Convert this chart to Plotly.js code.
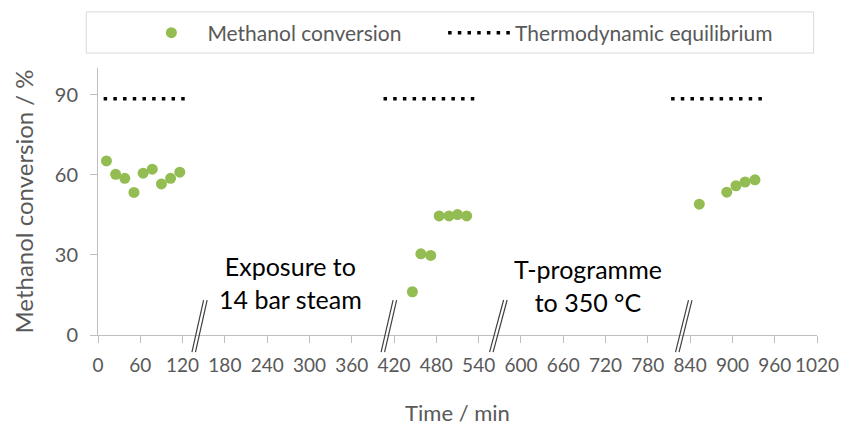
<!DOCTYPE html>
<html>
<head>
<meta charset="utf-8">
<script src="https://cdn.plot.ly/plotly-3.0.1.min.js"></script>
<style>html,body{margin:0;padding:0;background:#fff;}#chart{width:843px;height:426px;}</style>
</head>
<body>
<div id="chart"></div>
<script>
// ---- data ----
const timeMin = [12, 25, 38, 51, 64, 77, 90, 103, 116,
                 446, 458, 472, 484, 498, 510, 523,
                 853, 892, 905, 918, 932];
const conversion = [65.2, 60.2, 58.7, 53.4, 60.6, 62.1, 56.6, 58.7, 61.0,
                    16.2, 30.4, 29.8, 44.6, 44.6, 45.1, 44.6,
                    49.0, 53.5, 55.9, 57.3, 58.1];
const eqTime = [8, 123, null, 405, 534, null, 813, 942];
const eqValue = [88.5, 88.5, null, 88.5, 88.5, null, 88.5, 88.5];
const xTicks = [0, 60, 120, 180, 240, 300, 360, 420, 480, 540, 600, 660, 720, 780, 840, 900, 960, 1020];
const yTicks = [0, 30, 60, 90];
const seriesNames = ['Methanol conversion', 'Thermodynamic equilibrium'];
const notes = ['Exposure to<br>14 bar steam', 'T-programme<br>to 350 °C'];

// ---- styling / layout ----
const FONT = 'Lato, "Open Sans", sans-serif';
const GREY = '#595959';
const AX = '#bfbfbf';

const traces = [
  {
    x: timeMin, y: conversion, type: 'scatter', mode: 'markers', name: seriesNames[0],
    legend: 'legend',
    marker: {color: '#93bd52', size: 11}
  },
  {
    x: eqTime, y: eqValue, type: 'scatter', mode: 'lines', name: seriesNames[1],
    legend: 'legend2',
    connectgaps: false,
    line: {color: '#000000', width: 3.5, dash: '3.5px,6.2px'}
  }
];

// break marks "//" : [top x, bottom x] in minutes
const breaks = [[149.8, 133.3], [418.6, 401.6], [575.4, 555.5], [837.7, 819.3]];
const bTop = 0.131, bBot = -0.064, bOff = 5.0;
const shapes = breaks.map(b => ({
  type: 'path', xref: 'x', yref: 'paper', layer: 'above',
  path: `M${b[0]},${bTop} L${b[1]},${bBot} M${b[0] + bOff},${bTop} L${b[1] + bOff},${bBot}`,
  line: {color: '#404040', width: 1.2}
}));
shapes.push({
  type: 'rect', xref: 'paper', yref: 'paper',
  x0: -0.0163, x1: 0.9953, y0: 1.0562, y1: 1.21,
  line: {color: '#d9d9d9', width: 1}, fillcolor: 'rgba(0,0,0,0)'
});

const axisCommon = {
  showgrid: false, zeroline: false, showline: true, linecolor: AX, linewidth: 1,
  ticks: 'outside', ticklen: 7, tickcolor: AX, tickwidth: 1, automargin: false
};

const legendCommon = {
  orientation: 'h', xanchor: 'left', y: 1.131, yanchor: 'middle',
  bgcolor: 'rgba(0,0,0,0)', borderwidth: 0,
  font: {family: FONT, size: 21, color: GREY},
  itemwidth: 62
};

const layout = {
  width: 843, height: 426,
  margin: {l: 98, r: 26, t: 68, b: 91, pad: 0},
  paper_bgcolor: '#ffffff', plot_bgcolor: '#ffffff',
  font: {family: FONT, color: GREY},
  showlegend: true,
  legend: Object.assign({}, legendCommon, {x: 0.052}),
  legend2: Object.assign({}, legendCommon, {x: 0.480}),
  xaxis: Object.assign({}, axisCommon, {
    range: [0, 1020], tickmode: 'array', tickvals: xTicks, ticktext: xTicks.map(String),
    tickfont: {family: FONT, size: 19, color: GREY}, ticklabelstandoff: 6,
    title: {text: 'Time / min', font: {family: FONT, size: 22, color: GREY}, standoff: 33}
  }),
  yaxis: Object.assign({}, axisCommon, {
    range: [0, 100], tickmode: 'array', tickvals: yTicks, ticktext: yTicks.map(String),
    tickfont: {family: FONT, size: 20, color: GREY}, ticklabelstandoff: 8,
    title: {text: 'Methanol conversion / %', font: {family: FONT, size: 24, color: GREY}, standoff: 14}
  }),
  shapes: shapes,
  annotations: [
    {x: 273.5, y: 19.8, xref: 'x', yref: 'y', text: notes[0], showarrow: false,
     font: {family: FONT, size: 25, color: '#000000'}, align: 'center'},
    {x: 694.8, y: 18.4, xref: 'x', yref: 'y', text: notes[1], showarrow: false,
     font: {family: FONT, size: 25, color: '#000000'}, align: 'center'}
  ]
};

Plotly.newPlot('chart', traces, layout, {displayModeBar: false, staticPlot: true});
</script>
</body>
</html>
